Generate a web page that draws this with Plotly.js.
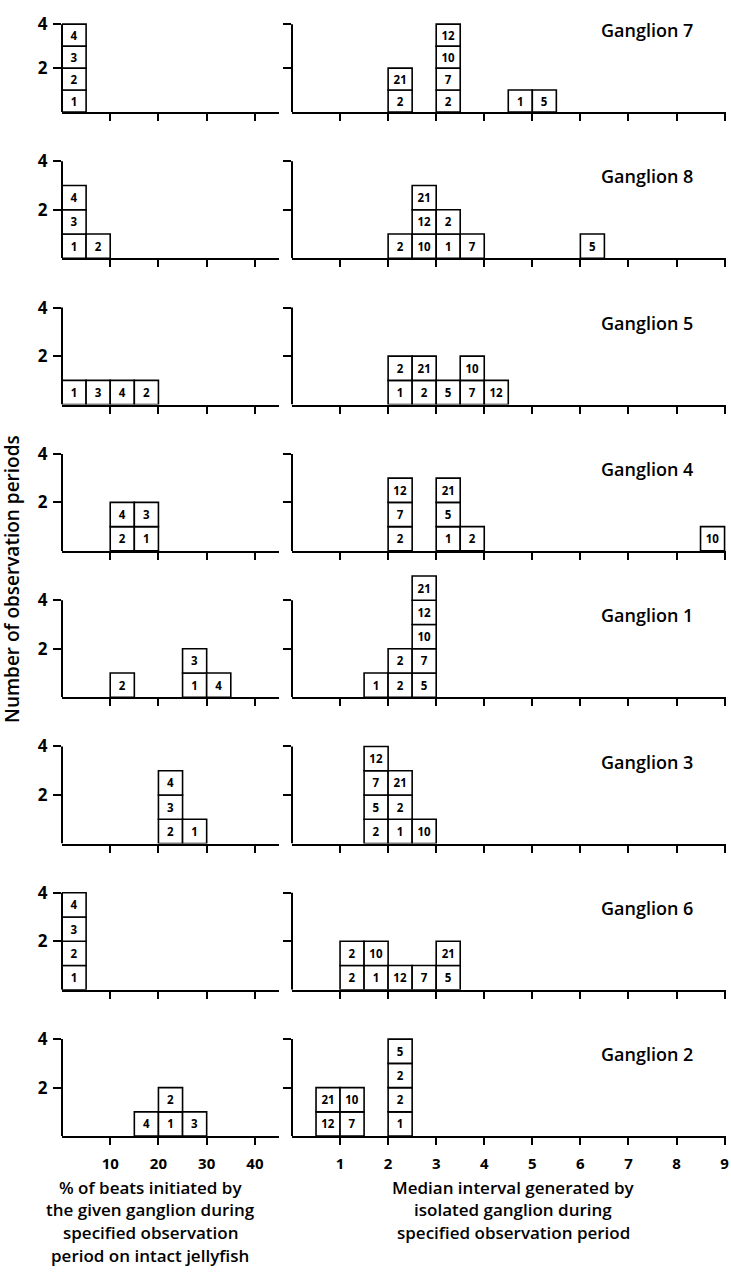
<!DOCTYPE html>
<html><head><meta charset="utf-8">
<script src="https://cdn.plot.ly/plotly-3.0.1.min.js"></script>
<style>html,body{margin:0;padding:0;background:#fff}</style>
</head><body><div id="chart" style="width:731px;height:1272px"></div>
<script>
// ---- data ----
const ganglia = ['Ganglion 7','Ganglion 8','Ganglion 5','Ganglion 4','Ganglion 1','Ganglion 3','Ganglion 6','Ganglion 2'];
// left column: % of beats initiated (bin start, bin width 5)
const pctBinWidth = 5;
const pctBins = [[0],[0,5],[0,5,10,15],[10,15],[10,25,30],[20,25],[0],[15,20,25]];
const pctLabels = [
  [[1,2,3,4]],
  [[1,3,4],[2]],
  [[1],[3],[4],[2]],
  [[2,4],[1,3]],
  [[2],[1,3],[4]],
  [[2,3,4],[1]],
  [[1,2,3,4]],
  [[4],[1,2],[3]]
];
// right column: median interval (bin start, bin width 0.5)
const medBinWidth = 0.5;
const medBins = [[2,3,4.5,5],[2,2.5,3,3.5,6],[2,2.5,3,3.5,4],[2,3,3.5,8.5],[1.5,2,2.5],[1.5,2,2.5],[1,1.5,2,2.5,3],[0.5,1,2]];
const medLabels = [
  [[2,21],[2,7,10,12],[1],[5]],
  [[2],[10,12,21],[1,2],[7],[5]],
  [[1,2],[2,21],[5],[7,10],[12]],
  [[2,7,12],[1,5,21],[2],[10]],
  [[1],[2,2],[5,7,10,12,21]],
  [[2,5,7,12],[1,2,21],[10]],
  [[2,2],[1,10],[12],[7],[5,21]],
  [[12,21],[7,10],[1,2,2,5]]
];
const pctRange = [0, 45];
const medRange = [0, 9.03];
const yAxisMax = 4;
const pctTicks = [10,20,30,40];
const medTicks = [1,2,3,4,5,6,7,8,9];
const yTicks = [2,4];
const yTickText = ['2','4'];
const yTitle = 'Number of observation periods';
const leftCaption = ['% of beats initiated by','the given ganglion during','specified observation','period on intact jellyfish'];
const rightCaption = ['Median interval generated by','isolated ganglion during','specified observation period'];

// ---- layout geometry ----
const W = 731, H = 1272;
const leftPx = [62, 279], rightPx = [292, 726];
const base0 = 112, rowStep = 146.3, axisH = 97;
const yShown = 5.1; // room above 4 for tall stacks
const TXT = '"Open Sans", Lato, sans-serif';

const traces = [];
const layout = {
  width: W, height: H, margin: {l:0, r:0, t:0, b:0}, showlegend: false,
  paper_bgcolor: '#fff', plot_bgcolor: 'rgba(0,0,0,0)', barmode: 'overlay',
  font: {family: TXT, color: '#000'}, annotations: [], shapes: []
};

function stackTrace(bins, labels, width, xa, ya) {
  const x = [], base = [], y = [], text = [];
  bins.forEach((b, i) => labels[i].forEach((lab, k) => {
    x.push(b + width / 2); base.push(k); y.push(1); text.push(String(lab));
  }));
  return {
    type: 'bar', x, y, base, text, width, xaxis: xa, yaxis: ya,
    marker: {color: '#fff', line: {color: '#000', width: 1.6}},
    textposition: 'inside', insidetextanchor: 'middle', textangle: 0,
    constraintext: 'none',
    textfont: {family: TXT, size: 11.5, color: '#000', weight: 'bold'},
    cliponaxis: false, hoverinfo: 'skip'
  };
}

ganglia.forEach((g, r) => {
  const base = base0 + rowStep * r;
  const top = base - axisH * yShown / yAxisMax;
  const yd = [1 - base / H, 1 - top / H];
  [0, 1].forEach(c => {
    const n = r * 2 + c + 1;
    const px = c === 0 ? leftPx : rightPx;
    layout['xaxis' + n] = {
      domain: [px[0] / W, px[1] / W], anchor: 'y' + n,
      range: c === 0 ? pctRange : medRange,
      tickvals: c === 0 ? pctTicks : medTicks,
      showline: true, linewidth: 2, linecolor: '#000',
      ticks: 'outside', ticklen: 7, tickwidth: 2, tickcolor: '#000',
      showgrid: false, zeroline: false, fixedrange: true,
      showticklabels: r === ganglia.length - 1,
      ticklabelstandoff: 6,
      tickfont: {family: TXT, size: 15, color: '#000', weight: 'bold'}
    };
    layout['yaxis' + n] = {
      domain: yd, anchor: 'x' + n, range: [0, yShown],
      tickvals: yTicks, ticktext: yTickText,
      showline: false,
      ticks: 'outside', ticklen: 8, tickwidth: 2, tickcolor: '#000',
      showgrid: false, zeroline: false, fixedrange: true,
      showticklabels: c === 0, ticklabelstandoff: 2,
      tickfont: {family: TXT, size: 17, color: '#000', weight: 'bold'}
    };
    // y-axis spine from 0 to 4 only
    layout.shapes.push({
      type: 'line', xref: 'x' + n + ' domain', yref: 'y' + n,
      x0: 0, x1: 0, y0: 0, y1: yAxisMax, line: {color: '#000', width: 2}
    });
    if (c === 0) traces.push(stackTrace(pctBins[r], pctLabels[r], pctBinWidth, 'x' + n, 'y' + n));
    else traces.push(stackTrace(medBins[r], medLabels[r], medBinWidth, 'x' + n, 'y' + n));
  });
  layout.annotations.push({
    text: g, xref: 'paper', yref: 'paper', x: 695 / W, y: 1 - (base - 82) / H,
    xanchor: 'right', yanchor: 'middle', showarrow: false,
    font: {family: TXT, size: 18, color: '#000', weight: 600}
  });
});

layout.annotations.push({
  text: yTitle, xref: 'paper', yref: 'paper', x: 12 / W, y: 1 - 579 / H,
  xanchor: 'center', yanchor: 'middle', textangle: -90, showarrow: false,
  font: {family: TXT, size: 19, color: '#000', weight: 600}
});
leftCaption.forEach((t, i) => layout.annotations.push({
  text: t, xref: 'paper', yref: 'paper', x: 150 / W, y: 1 - (1187 + 22.7 * i) / H,
  xanchor: 'center', yanchor: 'middle', showarrow: false,
  font: {family: TXT, size: 17, color: '#000', weight: 600}
}));
rightCaption.forEach((t, i) => layout.annotations.push({
  text: t, xref: 'paper', yref: 'paper', x: 513 / W, y: 1 - (1187 + 22.7 * i) / H,
  xanchor: 'center', yanchor: 'middle', showarrow: false,
  font: {family: TXT, size: 17, color: '#000', weight: 600}
}));

Plotly.newPlot('chart', traces, layout, {displayModeBar: false, staticPlot: true});
</script>
</body></html>
